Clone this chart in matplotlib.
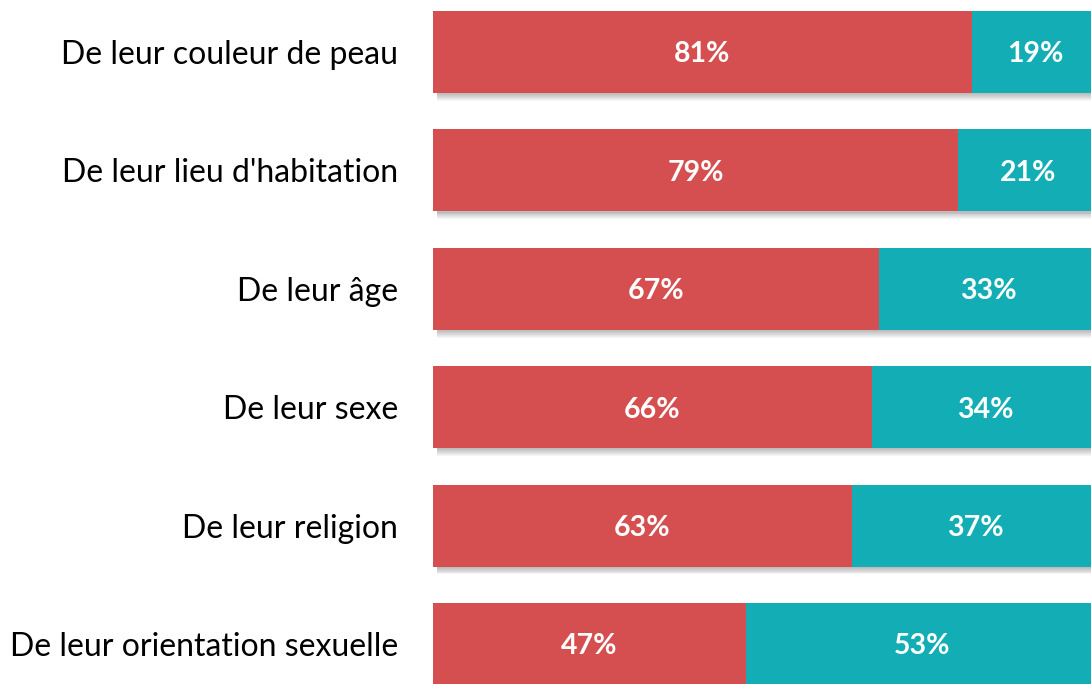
import matplotlib.pyplot as plt
from matplotlib.patches import Rectangle

categories = [
    "De leur couleur de peau",
    "De leur lieu d'habitation",
    "De leur âge",
    "De leur sexe",
    "De leur religion",
    "De leur orientation sexuelle",
]
oui = [81, 79, 67, 66, 63, 47]
non = [19, 21, 33, 34, 37, 53]

RED = "#D64F50"
TEAL = "#13AEB5"

plt.rcParams['font.family'] = ['Lato', 'DejaVu Sans']

fig = plt.figure(figsize=(10.91, 6.84), dpi=100)
ax = fig.add_axes([433 / 1091, 0, 1 - 433 / 1091, 1])

pitch = 118.4
bar_h = 82 / pitch
ys = list(range(len(categories)))

# soft drop shadow under each bar
for y in ys:
    for k in range(8):
        ax.add_patch(Rectangle((0.6, y - bar_h / 2 + 0.01 + k * 0.008), 100, bar_h,
                               facecolor="black", alpha=0.035, linewidth=0, zorder=1))

ax.barh(ys, oui, height=bar_h, color=RED, zorder=3)
ax.barh(ys, non, left=oui, height=bar_h, color=TEAL, zorder=3)

for y, a, b in zip(ys, oui, non):
    ax.text(a / 2, y + 0.02, f"{a}%", ha="center", va="center", color="white",
            fontsize=20.5, fontweight="bold", zorder=4)
    ax.text(a + b / 2, y + 0.02, f"{b}%", ha="center", va="center", color="white",
            fontsize=20.5, fontweight="bold", zorder=4)

# the bars run slightly past the right edge of the picture
ax.set_xlim(0, (1091 - 433) / 665 * 100)
ax.set_ylim((684 - 52) / pitch, -52 / pitch)
ax.set_yticks(ys)
ax.set_yticklabels(categories, fontsize=23)
ax.tick_params(axis="y", length=0, pad=25)
ax.tick_params(axis="x", bottom=False, labelbottom=False)
for s in ax.spines.values():
    s.set_visible(False)

fig.savefig("out.png", dpi=100)
